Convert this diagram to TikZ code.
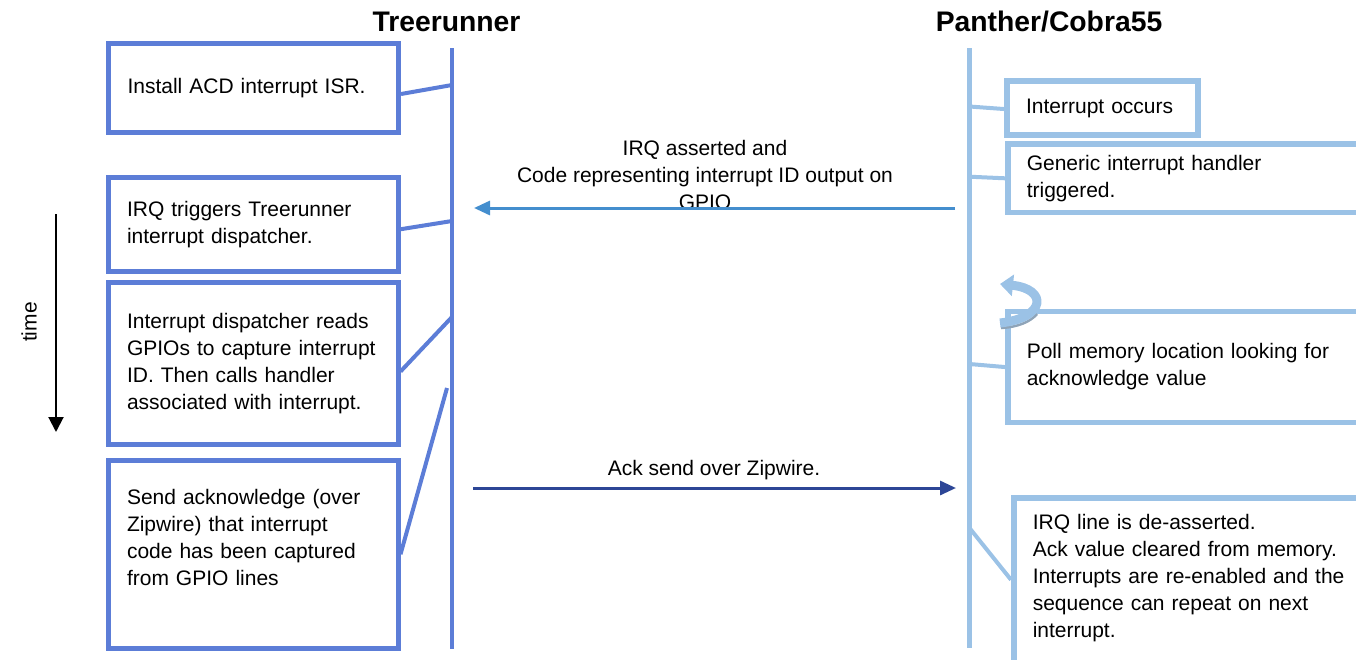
\documentclass[tikz,border=0pt]{standalone}
\usepackage{fontspec}
\setmainfont{Liberation Sans}
\usetikzlibrary{arrows.meta}
\definecolor{trblue}{RGB}{92,125,215}
\definecolor{pcblue}{RGB}{155,194,230}
\definecolor{irqblue}{RGB}{68,142,206}
\definecolor{ackblue}{RGB}{45,70,150}
\begin{document}
\begin{tikzpicture}[x=1pt,y=-1pt,
  txt/.style={font=\fontsize{21}{27}\selectfont},
  head/.style={font=\bfseries\fontsize{28.3}{32}\selectfont},
  trbox/.style={txt, draw=trblue, line width=5, anchor=north west, inner xsep=19,
    inner ysep=0, align=left, minimum width=290, text width=252},
  pcbox/.style={txt, draw=pcblue, line width=5.5, anchor=north west, inner xsep=19,
    inner ysep=0, align=left},
  trlink/.style={trblue, line width=4},
  pclink/.style={pcblue, line width=4},
  msg/.style={line width=3, -{Triangle[length=16pt,width=14pt]}}]
\clip (0,0) rectangle (1356,659);
\node[head] (trhead) at (446.5,22) {Treerunner};
\node[head] (pchead) at (1049,22) {Panther/Cobra55};
\coordinate (trtop) at (452,48);
\coordinate (trbot) at (452,649);
\coordinate (pctop) at (969.5,48);
\coordinate (pcbot) at (969.5,648);
\draw[trblue, line width=4] (trtop) -- (trbot);
\draw[pcblue, line width=4.5] (pctop) -- (pcbot);
\foreach \n/\x/\y in {1/452/85, 2/452/221, 3/452/317, 4/447/388}
  \coordinate (tr\n) at (\x,\y);
\foreach \n/\y in {1/106.5, 2/176.7, 3/364, 4/528}
  \coordinate (pc\n) at (969.5,\y);
\node[trbox, minimum height=89] (tinstall) at (106,41)
  {Install ACD interrupt ISR.};
\node[trbox, minimum height=94.5] (ttrigger) at (105.5,174.5)
  {IRQ triggers Treerunner\\interrupt dispatcher.};
\node[trbox, minimum height=162] (tdispatch) at (105.5,280)
  {Interrupt dispatcher reads\\GPIOs to capture interrupt\\ID. Then calls handler\\associated with interrupt.};
\node[trbox, minimum height=188.5] (tsendack) at (105.5,457.5)
  {Send acknowledge (over\\Zipwire) that interrupt\\code has been captured\\from GPIO lines\\[7pt]~};
\node[pcbox, minimum height=54, minimum width=191, text width=153] (pintr) at (1004.3,78.3)
  {Interrupt occurs};
\node[pcbox, minimum height=68.5, minimum width=392, text width=354] (pgeneric) at (1005,141.3)
  {Generic interrupt handler\\triggered.};
\node[pcbox, minimum height=111, minimum width=392, text width=354] (ppoll) at (1005,308.8)
  {Poll memory location looking for\\acknowledge value};
\node[pcbox, minimum height=200, minimum width=390, text width=352] (pirqline) at (1011,495)
  {IRQ line is de-asserted.\\Ack value cleared from memory.\\Interrupts are re-enabled and the\\sequence can repeat on next\\interrupt.\\[17pt]~};
\draw[trlink] (tinstall.east) ++(0,6) -- (tr1);
\draw[trlink] (ttrigger.east) ++(0,5) -- (tr2);
\draw[trlink] (tdispatch.east) ++(0,8) -- (tr3);
\draw[trlink] (tsendack.east) -- (tr4);
\draw[pclink] (pc1) -- ([shift={(0,1)}]pintr.west);
\draw[pclink] (pc2) -- (pgeneric.west);
\draw[pclink] (pc3) -- (ppoll.west);
\draw[pclink] (pc4) -- ([shift={(0,-18)}]pirqline.west);
\draw[pcblue!55!gray, line width=2.5] (1001,328) .. controls (1018,327) and (1030,322) .. (1037,314);
\draw[pcblue, line width=9, -{Triangle[length=13pt,width=21pt]}]
  (1000,323) .. controls (1046,318) and (1048,289) .. (1000,284);
\coordinate (irqs) at (955,208);
\coordinate (irqe) at (474,208);
\coordinate (acks) at (473,488);
\coordinate (acke) at (956,488);
\node[txt, align=center] (irqlbl) at (705,175)
  {IRQ asserted and\\Code representing interrupt ID output on\\GPIO};
\draw[msg, irqblue] (irqs) -- (irqe);
\node[txt] (acklbl) at (714,470) {Ack send over Zipwire.};
\draw[msg, ackblue] (acks) -- (acke);
\coordinate (tstart) at (56,214);
\coordinate (tend) at (56,432);
\draw[line width=2, -{Triangle[length=15pt,width=15pt]}] (tstart) -- (tend);
\node[txt, rotate=90] (timelbl) at (29,322) {time};
\end{tikzpicture}
\end{document}
